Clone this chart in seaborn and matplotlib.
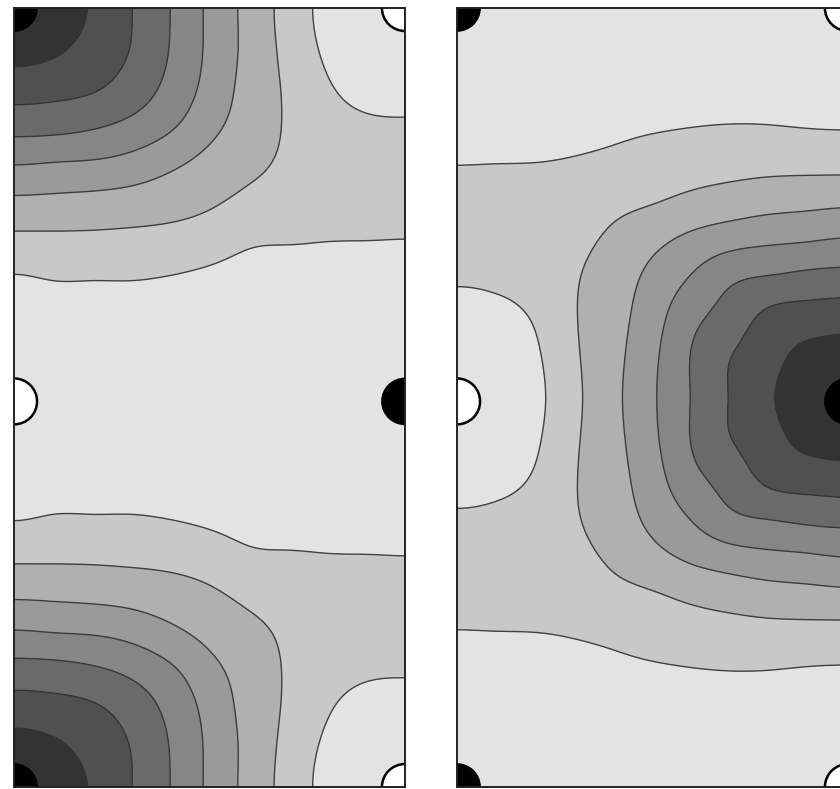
import numpy as np
import matplotlib
matplotlib.use("Agg")
import matplotlib.pyplot as plt
from matplotlib.patches import Circle
import seaborn as sns

sns.set_theme(style="white")

# ---- data -----------------------------------------------------------------
# grid nodes: x across a panel (0..1), d = distance down from the top edge (0..1 = top half)
x_nodes = [0.0, 0.1, 0.2, 0.3, 0.4, 0.5, 0.6, 0.7, 0.8, 0.9, 1.0]
d_nodes = [0.0, 0.1, 0.2, 0.3, 0.4, 0.5, 0.6, 0.7, 0.8, 0.9, 1.0]

# field values (in contour-level units) for the top half; the panels are mirror-symmetric about the middle
left_top = [
    [9.00, 7.93, 6.89, 6.02, 4.99, 3.81, 2.70, 1.63, 0.75, 0.55, 0.45],
    [7.68, 7.27, 6.64, 5.97, 4.96, 3.81, 2.72, 1.71, 0.85, 0.60, 0.50],
    [6.50, 6.38, 6.15, 5.59, 4.73, 3.68, 2.66, 1.85, 1.08, 0.80, 0.80],
    [5.40, 5.35, 5.15, 4.77, 4.16, 3.30, 2.55, 1.90, 1.35, 1.10, 1.05],
    [4.04, 3.95, 3.87, 3.64, 3.19, 2.69, 2.22, 1.85, 1.55, 1.40, 1.30],
    [2.78, 2.74, 2.67, 2.56, 2.38, 2.12, 1.76, 1.60, 1.45, 1.35, 1.25],
    [1.73, 1.75, 1.75, 1.71, 1.63, 1.41, 1.10, 1.04, 1.00, 0.99, 0.98],
    [0.90, 1.00, 1.00, 1.00, 0.92, 0.80, 0.72, 0.70, 0.70, 0.70, 0.70],
    [0.60, 0.60, 0.60, 0.58, 0.55, 0.55, 0.55, 0.55, 0.55, 0.55, 0.55],
    [0.45, 0.45, 0.45, 0.45, 0.45, 0.45, 0.45, 0.45, 0.45, 0.45, 0.45],
    [0.40, 0.40, 0.40, 0.40, 0.40, 0.40, 0.40, 0.40, 0.40, 0.40, 0.40],
]
right_top = [
    [0.35, 0.35, 0.35, 0.35, 0.35, 0.35, 0.35, 0.35, 0.35, 0.35, 0.35],
    [0.45, 0.45, 0.45, 0.45, 0.45, 0.45, 0.45, 0.45, 0.45, 0.45, 0.45],
    [0.55, 0.55, 0.55, 0.55, 0.58, 0.62, 0.67, 0.68, 0.68, 0.66, 0.65],
    [0.72, 0.72, 0.72, 0.75, 0.82, 0.90, 0.97, 1.01, 1.00, 0.95, 0.93],
    [0.99, 1.00, 1.01, 1.07, 1.21, 1.40, 1.55, 1.65, 1.71, 1.71, 1.70],
    [1.22, 1.25, 1.30, 1.45, 1.75, 1.97, 2.26, 2.48, 2.66, 2.76, 2.84],
    [1.25, 1.30, 1.42, 1.75, 2.20, 2.75, 3.29, 3.68, 3.88, 4.00, 4.13],
    [1.04, 1.10, 1.35, 1.92, 2.50, 3.30, 4.13, 4.88, 5.18, 5.375, 5.45],
    [0.80, 0.82, 1.07, 1.93, 2.65, 3.60, 4.75, 5.47, 6.30, 6.53, 6.63],
    [0.65, 0.70, 0.88, 1.85, 2.72, 3.80, 5.05, 6.00, 6.70, 7.39, 7.75],
    [0.60, 0.65, 0.80, 1.78, 2.76, 3.87, 5.04, 6.06, 6.89, 7.93, 9.00],
]

contour_levels = [1, 2, 3, 4, 5, 6, 7]
band_grays = [227, 200, 176, 154, 134, 106, 80, 51]   # lightest band first

# atoms (x, y) in panel coordinates, y from 0 (bottom) to 2 (top)
black_atoms_x = [0.0, 0.0, 1.0]
black_atoms_y = [0.0, 2.0, 0.99]
white_atoms_x = [1.0, 1.0, 0.0]
white_atoms_y = [0.0, 2.0, 0.99]
atom_radius = 0.059


# ---- smooth resampling of the read grid (clamped cubic spline, mirror-symmetric edges)
def spline_operator(nodes, fine):
    nodes = np.asarray(nodes, dtype=float)
    n = len(nodes)
    h = nodes[1] - nodes[0]
    A = np.zeros((n, n))
    A[0, 0], A[0, 1] = 2 * h, h
    A[-1, -2], A[-1, -1] = h, 2 * h
    for i in range(1, n - 1):
        A[i, i - 1], A[i, i], A[i, i + 1] = h, 4 * h, h
    op = np.zeros((len(fine), n))
    for k in range(n):
        y = np.zeros(n)
        y[k] = 1.0
        rhs = np.zeros(n)
        rhs[0] = 6 * ((y[1] - y[0]) / h)
        rhs[-1] = 6 * (-(y[-1] - y[-2]) / h)
        for i in range(1, n - 1):
            rhs[i] = 6 * ((y[i + 1] - y[i]) / h - (y[i] - y[i - 1]) / h)
        M = np.linalg.solve(A, rhs)
        idx = np.clip(((fine - nodes[0]) / h).astype(int), 0, n - 2)
        t0 = nodes[idx]
        t1 = nodes[idx + 1]
        s = (M[idx] * (t1 - fine) ** 3 / (6 * h) + M[idx + 1] * (fine - t0) ** 3 / (6 * h)
             + (y[idx] - M[idx] * h * h / 6) * (t1 - fine) / h
             + (y[idx + 1] - M[idx + 1] * h * h / 6) * (fine - t0) / h)
        op[:, k] = s
    return op


xs = np.asarray(x_nodes, dtype=float)
ds_half = np.asarray(d_nodes, dtype=float)
ds = np.concatenate([ds_half, 2.0 - ds_half[-2::-1]])
x_fine = np.linspace(0, 1, 301)
d_fine = np.linspace(0, 2, 601)
Ox = spline_operator(xs, x_fine)
Od = spline_operator(ds, d_fine)
X, Y = np.meshgrid(x_fine, 2.0 - d_fine)


def fine_field(top_half):
    top = np.asarray(top_half, dtype=float)
    full = np.vstack([top, top[-2::-1]])
    return Od @ full @ Ox.T


# ---- figure ----------------------------------------------------------------
W, H = 840, 789
fig = plt.figure(figsize=(W / 100, H / 100), dpi=100)
fig.patch.set_facecolor("white")

ax_left = fig.add_axes([14 / W, 2 / H, 391 / W, 779 / H])
ax_right = fig.add_axes([457 / W, 2 / H, 391 / W, 779 / H])

band_colors = [(g / 255, g / 255, g / 255) for g in band_grays]
fill_levels = [-50] + contour_levels + [50]

for ax, top in [(ax_left, left_top), (ax_right, right_top)]:
    Z = fine_field(top)
    ax.contourf(X, Y, Z, levels=fill_levels, colors=band_colors, zorder=1)
    ax.contour(X, Y, Z, levels=contour_levels, colors="#333333",
               linewidths=1.0, alpha=0.9, zorder=2)
    for x, y in zip(black_atoms_x, black_atoms_y):
        ax.add_patch(Circle((x, y), atom_radius, facecolor="black",
                            edgecolor="black", lw=1.2, zorder=5))
    for x, y in zip(white_atoms_x, white_atoms_y):
        ax.add_patch(Circle((x, y), atom_radius, facecolor="white",
                            edgecolor="black", lw=1.8, zorder=5))
    ax.set_xlim(0, 1)
    ax.set_ylim(0, 2)
    ax.set_xticks([])
    ax.set_yticks([])
    for sp in ax.spines.values():
        sp.set_color("#222222")
        sp.set_linewidth(1.4)
        sp.set_zorder(6)

fig.savefig("out.png", dpi=100, facecolor="white")
